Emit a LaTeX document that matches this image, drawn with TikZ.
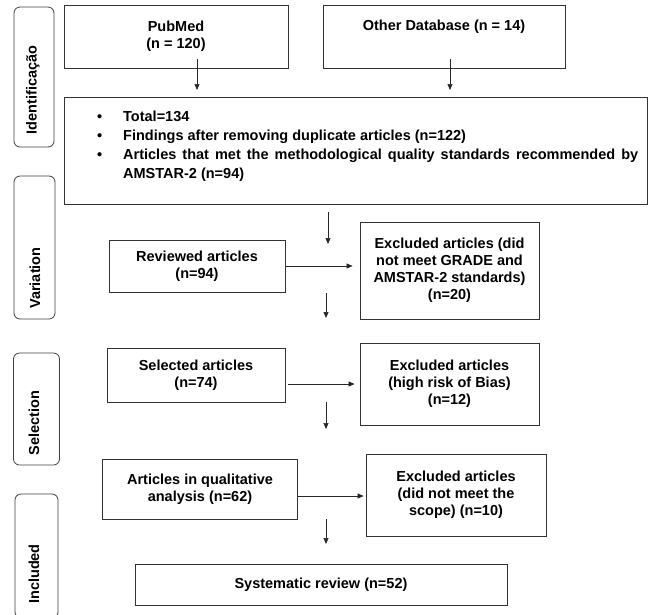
\documentclass[tikz,border=0pt]{standalone}
\usepackage{fontspec}
\setmainfont{Liberation Sans}
\usetikzlibrary{arrows.meta}
\begin{document}
\begin{tikzpicture}[x=1pt,y=-1pt,
  every node/.style={font=\bfseries\fontsize{14.5}{17}\selectfont},
  box/.style={draw=black!80, line width=0.9pt, rectangle, inner sep=0pt, align=center},
  side/.style={draw=black!75, line width=0.8pt, rectangle, rounded corners=6pt, inner sep=0pt},
  sidetext/.style={rotate=90, inner sep=0pt},
  arr/.style={-{Triangle[length=6pt,width=5pt]}, line width=0.7pt, draw=black!85}]
\useasboundingbox (0,0) rectangle (650,614);
\fill[white] (0,0) rectangle (650,614);

% side labels
\node[side, minimum width=40pt, minimum height=140pt] (sid1) at (34,77) {};
\node[sidetext] (lab1) at (33,90) {Identificação};
\node[side, minimum width=41pt, minimum height=143pt] (sid2) at (34.5,247.5) {};
\node[sidetext] (lab2) at (35,278) {Variation};
\node[side, minimum width=46pt, minimum height=112pt] (sid3) at (36.5,409) {};
\node[sidetext] (lab3) at (34,423) {Selection};
\node[side, minimum width=43pt, minimum height=124pt] (sid4) at (36.5,556) {};
\node[sidetext] (lab4) at (34,574) {Included};

% boxes
\node[box, minimum width=224pt, minimum height=63pt] (pub) at (176,36.5) {PubMed\\(n = 120)};
\node[box, minimum width=242pt, minimum height=63pt] (oth) at (444,36.5) {Other Database (n = 14)\\\strut};
\node[box, minimum width=583pt, minimum height=107pt] (big) at (355.5,150.5) {};
\node[anchor=north west, inner sep=0pt, align=left,
      font=\bfseries\fontsize{14.5}{19}\selectfont] (list) at (97,107.5)
 {\begin{tabular}{@{}l@{}l@{}}
  \makebox[26pt][l]{\textbullet} & Total=134\\
  \makebox[26pt][l]{\textbullet} & Findings after removing duplicate articles (n=122)\\
  \makebox[26pt][l]{\textbullet} & \makebox[515pt][s]{Articles that met the methodological quality standards recommended by}\\
  & AMSTAR-2 (n=94)
  \end{tabular}};

\node[box, minimum width=176pt, minimum height=52pt] (rev) at (197,266) {Reviewed articles\\(n=94)};
\node[box, minimum width=179pt, minimum height=97pt] (ex1) at (449.5,270.5) {Excluded articles (did\\not meet GRADE and\\AMSTAR-2 standards)\\(n=20)};
\node[box, minimum width=178pt, minimum height=54pt] (sel) at (196,375) {Selected articles\\(n=74)};
\node[box, minimum width=179pt, minimum height=82pt] (ex2) at (449.5,384) {Excluded articles\\(high risk of Bias)\\(n=12)};
\node[box, minimum width=195pt, minimum height=60pt] (qual) at (200,489) {Articles in qualitative\\analysis (n=62)};
\node[box, minimum width=180pt, minimum height=82pt] (ex3) at (456,495) {Excluded articles\\(did not meet the\\scope) (n=10)};
\node[box, minimum width=372pt, minimum height=41pt] (sys) at (321,584.5) {Systematic review (n=52)};

% arrow end points
\coordinate (a1s) at (197,59);  \coordinate (a1e) at (197,90);
\coordinate (a2s) at (450,59);  \coordinate (a2e) at (450,90);
\coordinate (v1s) at (328,212); \coordinate (v1e) at (328,244);
\coordinate (v2s) at (326,293); \coordinate (v2e) at (326,318);
\coordinate (v3s) at (326,402); \coordinate (v3e) at (326,429);
\coordinate (v4s) at (326,519); \coordinate (v4e) at (326,544);

\draw[arr] (a1s) -- (a1e);
\draw[arr] (a2s) -- (a2e);
\draw[arr] (v1s) -- (v1e);
\draw[arr] (v2s) -- (v2e);
\draw[arr] (v3s) -- (v3e);
\draw[arr] (v4s) -- (v4e);

\draw[arr, shorten >=7pt] (rev.east) -- (rev.east -| ex1.west);
\draw[arr, shorten <=3pt, shorten >=5pt] ([yshift=-9pt]sel.east) -- ([yshift=-9pt]sel.east -| ex2.west);
\draw[arr, shorten >=2pt] ([yshift=-7pt]qual.east) -- ([yshift=-7pt]qual.east -| ex3.west);
\end{tikzpicture}
\end{document}
